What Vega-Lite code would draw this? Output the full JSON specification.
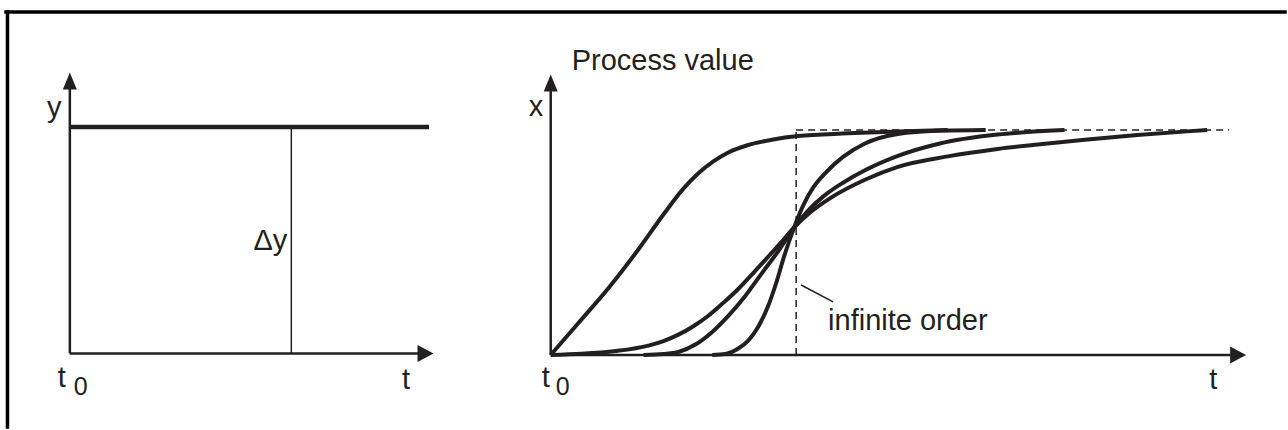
{
  "$schema": "https://vega.github.io/schema/vega-lite/v6.json",
  "width": 1288,
  "height": 430,
  "padding": 0,
  "autosize": {"type": "fit", "contains": "padding"},
  "background": "white",
  "config": {"view": {"stroke": null}},
  "datasets": {
    "curves": [
      {"s": "A", "t": 552, "v": 72.5}, {"s": "A", "t": 580, "v": 105}, {"s": "A", "t": 610, "v": 140}, {"s": "A", "t": 640, "v": 179}, {"s": "A", "t": 665, "v": 214}, {"s": "A", "t": 685, "v": 240}, {"s": "A", "t": 700, "v": 255.5}, {"s": "A", "t": 715, "v": 267.5}, {"s": "A", "t": 730, "v": 276.5}, {"s": "A", "t": 750, "v": 284}, {"s": "A", "t": 775, "v": 289.5}, {"s": "A", "t": 800, "v": 293}, {"s": "A", "t": 850, "v": 295.7}, {"s": "A", "t": 900, "v": 297.7}, {"s": "A", "t": 950, "v": 299},
      {"s": "B", "t": 552, "v": 72.5}, {"s": "B", "t": 583, "v": 73.7}, {"s": "B", "t": 617, "v": 76.5}, {"s": "B", "t": 650, "v": 82}, {"s": "B", "t": 665, "v": 86.5}, {"s": "B", "t": 680, "v": 93}, {"s": "B", "t": 695, "v": 101.5}, {"s": "B", "t": 710, "v": 112}, {"s": "B", "t": 725, "v": 125}, {"s": "B", "t": 740, "v": 139}, {"s": "B", "t": 755, "v": 155}, {"s": "B", "t": 770, "v": 171.5}, {"s": "B", "t": 783, "v": 186}, {"s": "B", "t": 796, "v": 201}, {"s": "B", "t": 812, "v": 216}, {"s": "B", "t": 833, "v": 231}, {"s": "B", "t": 867, "v": 249}, {"s": "B", "t": 900, "v": 262}, {"s": "B", "t": 950, "v": 272.5}, {"s": "B", "t": 1000, "v": 280}, {"s": "B", "t": 1040, "v": 284.5}, {"s": "B", "t": 1090, "v": 289.5}, {"s": "B", "t": 1140, "v": 294}, {"s": "B", "t": 1190, "v": 297.7}, {"s": "B", "t": 1210, "v": 299},
      {"s": "C", "t": 645, "v": 72.5}, {"s": "C", "t": 665, "v": 73.5}, {"s": "C", "t": 680, "v": 75.5}, {"s": "C", "t": 697, "v": 83}, {"s": "C", "t": 713, "v": 95}, {"s": "C", "t": 730, "v": 112}, {"s": "C", "t": 747, "v": 132}, {"s": "C", "t": 763, "v": 154}, {"s": "C", "t": 780, "v": 177}, {"s": "C", "t": 796, "v": 201}, {"s": "C", "t": 810, "v": 218}, {"s": "C", "t": 825, "v": 232}, {"s": "C", "t": 845, "v": 246}, {"s": "C", "t": 867, "v": 258.5}, {"s": "C", "t": 900, "v": 273}, {"s": "C", "t": 940, "v": 285}, {"s": "C", "t": 1000, "v": 294.5}, {"s": "C", "t": 1030, "v": 297}, {"s": "C", "t": 1067, "v": 299},
      {"s": "D", "t": 714, "v": 72.5}, {"s": "D", "t": 727, "v": 73.5}, {"s": "D", "t": 740, "v": 79}, {"s": "D", "t": 750, "v": 87}, {"s": "D", "t": 760, "v": 101}, {"s": "D", "t": 770, "v": 122}, {"s": "D", "t": 778, "v": 145}, {"s": "D", "t": 786, "v": 172}, {"s": "D", "t": 796, "v": 201}, {"s": "D", "t": 805, "v": 223}, {"s": "D", "t": 815, "v": 241}, {"s": "D", "t": 828, "v": 256.5}, {"s": "D", "t": 845, "v": 272}, {"s": "D", "t": 867, "v": 285.5}, {"s": "D", "t": 900, "v": 295}, {"s": "D", "t": 940, "v": 298.3}, {"s": "D", "t": 988, "v": 299}
    ],
    "lines": [
      {"kind": "frame", "x": 6, "x2": 1288, "y": 418, "y2": 418},
      {"kind": "frame", "x": 7.5, "x2": 7.5, "y": 418, "y2": 0},
      {"kind": "axis", "x": 70, "x2": 70, "y": 74, "y2": 345},
      {"kind": "axis", "x": 70, "x2": 425, "y": 74, "y2": 74},
      {"kind": "axis", "x": 552, "x2": 552, "y": 72.5, "y2": 343},
      {"kind": "axis", "x": 552, "x2": 1238, "y": 72.5, "y2": 72.5},
      {"kind": "step", "x": 70, "x2": 430, "y": 302, "y2": 302},
      {"kind": "thin", "x": 292, "x2": 292, "y": 74, "y2": 302},
      {"kind": "thin", "x": 803, "x2": 835, "y": 143, "y2": 126},
      {"kind": "dash", "x": 798, "x2": 798, "y": 72.5, "y2": 299},
      {"kind": "dash", "x": 798, "x2": 1232, "y": 299, "y2": 299}
    ],
    "arrows": [
      {"dir": "up", "x": 70, "y": 348.5},
      {"dir": "up", "x": 552, "y": 346.5},
      {"dir": "right", "x": 426.5, "y": 74},
      {"dir": "right", "x": 1241, "y": 72.5}
    ],
    "labels": [
      {"kind": "main", "x": 47, "y": 312, "text": "y"},
      {"kind": "main", "x": 254, "y": 178, "text": "Δy"},
      {"kind": "main", "x": 58, "y": 40, "text": "t"},
      {"kind": "sub", "x": 74, "y": 32, "text": "0"},
      {"kind": "main", "x": 403, "y": 38, "text": "t"},
      {"kind": "main", "x": 573, "y": 360, "text": "Process value"},
      {"kind": "main", "x": 530, "y": 313, "text": "x"},
      {"kind": "main", "x": 543, "y": 40, "text": "t"},
      {"kind": "sub", "x": 557, "y": 32, "text": "0"},
      {"kind": "main", "x": 830, "y": 98, "text": "infinite order"},
      {"kind": "main", "x": 1212, "y": 38, "text": "t"}
    ]
  },
  "layer": [
    {
      "data": {"name": "lines"},
      "transform": [{"filter": "datum.kind === 'frame'"}],
      "mark": {"type": "rule", "color": "#000000", "strokeWidth": 3.5, "strokeCap": "square"},
      "encoding": {
        "x": {"field": "x", "type": "quantitative", "scale": {"domain": [0, 1288], "nice": false, "zero": false}, "axis": null},
        "x2": {"field": "x2"},
        "y": {"field": "y", "type": "quantitative", "scale": {"domain": [0, 430], "nice": false, "zero": false}, "axis": null},
        "y2": {"field": "y2"}
      }
    },
    {
      "data": {"name": "lines"},
      "transform": [{"filter": "datum.kind === 'axis'"}],
      "mark": {"type": "rule", "color": "#231f20", "strokeWidth": 2.5},
      "encoding": {
        "x": {"field": "x", "type": "quantitative"},
        "x2": {"field": "x2"},
        "y": {"field": "y", "type": "quantitative"},
        "y2": {"field": "y2"}
      }
    },
    {
      "data": {"name": "lines"},
      "transform": [{"filter": "datum.kind === 'step'"}],
      "mark": {"type": "rule", "color": "#231f20", "strokeWidth": 4.5},
      "encoding": {
        "x": {"field": "x", "type": "quantitative"},
        "x2": {"field": "x2"},
        "y": {"field": "y", "type": "quantitative"},
        "y2": {"field": "y2"}
      }
    },
    {
      "data": {"name": "lines"},
      "transform": [{"filter": "datum.kind === 'thin'"}],
      "mark": {"type": "rule", "color": "#231f20", "strokeWidth": 1.5},
      "encoding": {
        "x": {"field": "x", "type": "quantitative"},
        "x2": {"field": "x2"},
        "y": {"field": "y", "type": "quantitative"},
        "y2": {"field": "y2"}
      }
    },
    {
      "data": {"name": "lines"},
      "transform": [{"filter": "datum.kind === 'dash'"}],
      "mark": {"type": "rule", "color": "#231f20", "strokeWidth": 1.5, "strokeDash": [7, 5]},
      "encoding": {
        "x": {"field": "x", "type": "quantitative"},
        "x2": {"field": "x2"},
        "y": {"field": "y", "type": "quantitative"},
        "y2": {"field": "y2"}
      }
    },
    {
      "data": {"name": "curves"},
      "mark": {"type": "line", "color": "#231f20", "strokeWidth": 4, "interpolate": "monotone", "strokeCap": "butt"},
      "encoding": {
        "x": {"field": "t", "type": "quantitative"},
        "y": {"field": "v", "type": "quantitative"},
        "detail": {"field": "s", "type": "nominal"}
      }
    },
    {
      "data": {"name": "arrows"},
      "transform": [{"filter": "datum.dir === 'up'"}],
      "mark": {"type": "point", "filled": true, "color": "#231f20", "opacity": 1, "size": 400, "strokeWidth": 0, "shape": "M0,-0.85L-0.7,0.85L0.7,0.85Z"},
      "encoding": {
        "x": {"field": "x", "type": "quantitative"},
        "y": {"field": "y", "type": "quantitative"}
      }
    },
    {
      "data": {"name": "arrows"},
      "transform": [{"filter": "datum.dir === 'right'"}],
      "mark": {"type": "point", "filled": true, "color": "#231f20", "opacity": 1, "size": 400, "strokeWidth": 0, "shape": "M0.8,0L-0.8,-0.85L-0.8,0.85Z"},
      "encoding": {
        "x": {"field": "x", "type": "quantitative"},
        "y": {"field": "y", "type": "quantitative"}
      }
    },
    {
      "data": {"name": "labels"},
      "transform": [{"filter": "datum.kind === 'main'"}],
      "mark": {"type": "text", "align": "left", "baseline": "alphabetic", "font": "Liberation Sans", "fontSize": 29, "color": "#231f20"},
      "encoding": {
        "x": {"field": "x", "type": "quantitative"},
        "y": {"field": "y", "type": "quantitative"},
        "text": {"field": "text", "type": "nominal"}
      }
    },
    {
      "data": {"name": "labels"},
      "transform": [{"filter": "datum.kind === 'sub'"}],
      "mark": {"type": "text", "align": "left", "baseline": "alphabetic", "font": "Liberation Sans", "fontSize": 25, "color": "#231f20"},
      "encoding": {
        "x": {"field": "x", "type": "quantitative"},
        "y": {"field": "y", "type": "quantitative"},
        "text": {"field": "text", "type": "nominal"}
      }
    }
  ]
}
